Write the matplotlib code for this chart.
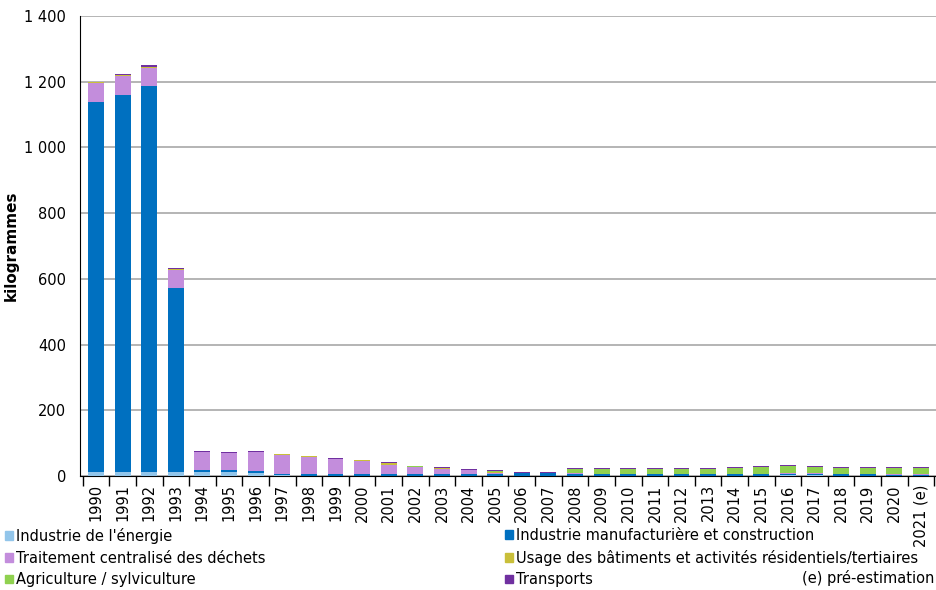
import numpy as np
import matplotlib.pyplot as plt
from matplotlib.patches import Patch

years = [str(y) for y in range(1990, 2021)] + ["2021 (e)"]

energie = [12, 12, 12, 12, 13, 13, 8, 2, 1, 1, 1, 1, 1, 1, 1, 1, 1, 1,
           1, 1, 1, 1, 1, 1, 1, 1, 2, 3, 1, 1, 1, 1]
manufacture = [1126, 1147, 1175, 561, 5, 4, 8, 5, 5, 4, 4, 4, 5, 4, 4, 4, 9, 8,
               4, 4, 4, 4, 4, 4, 4, 4, 4, 4, 4, 4, 3, 3]
dechets = [57, 58, 55, 55, 54, 52, 56, 57, 53, 47, 42, 30, 22, 15, 12, 5, 0, 0,
           3, 2, 2, 2, 2, 2, 2, 2, 2, 2, 2, 2, 2, 2]
residentiel = [3, 2, 3, 1, 2, 2, 1, 2, 1, 1, 1, 4, 0, 3, 1, 3, 0, 0,
               0, 0, 0, 0, 0, 0, 0, 0, 0, 0, 0, 0, 0, 0]
agriculture = [0, 0, 0, 0, 0, 0, 0, 0, 0, 0, 0, 2, 1, 2, 1, 3, 0, 0,
               14, 15, 15, 14, 15, 15, 18, 21, 21, 19, 18, 18, 19, 19]
transports = [2, 3, 5, 3, 2, 2, 2, 2, 2, 2, 2, 2, 2, 2, 3, 2, 2, 3,
              3, 3, 3, 3, 3, 3, 3, 3, 3, 3, 3, 3, 3, 3]

series = [
    ("Industrie de l'énergie", energie, "#92C5EA"),
    ("Industrie manufacturière et construction", manufacture, "#0070C0"),
    ("Traitement centralisé des déchets", dechets, "#C38DDC"),
    ("Usage des bâtiments et activités résidentiels/tertiaires", residentiel, "#C9BF3A"),
    ("Agriculture / sylviculture", agriculture, "#8FD14F"),
    ("Transports", transports, "#7030A0"),
]

fig = plt.figure(figsize=(9.37, 5.90), dpi=100)
ax = fig.add_axes([80 / 937, 1 - 476 / 590, 857 / 937, 460 / 590])

x = np.arange(len(years))
bottom = np.zeros(len(years))
for name, vals, col in series:
    vals = np.array(vals, dtype=float)
    ax.bar(x, vals, 0.6, bottom=bottom, color=col, edgecolor="none", zorder=3)
    bottom += vals

ax.set_xlim(-0.6, len(years) - 0.4)
ax.set_ylim(0, 1400)
yt = np.arange(0, 1401, 200)
ax.set_yticks(yt)
ax.set_yticklabels([f"{v:,}".replace(",", " ") for v in yt], fontsize=10.5)
ax.yaxis.grid(True, color="#a8a8a8", linewidth=1.2, zorder=0)
ax.tick_params(axis="y", length=0, pad=10)
ax.set_ylabel("kilogrammes", fontsize=11, fontweight="bold", labelpad=4)

ax.set_xticks(x)
ax.set_xticklabels(years, rotation=90, fontsize=10.5)
ax.tick_params(axis="x", length=0, pad=6)
ax.set_xticks(np.arange(len(years) + 1) - 0.5, minor=True)
ax.tick_params(axis="x", which="minor", length=7, width=1, color="black")

for s in ["top", "right"]:
    ax.spines[s].set_visible(False)
ax.spines["left"].set_color("black")
ax.spines["bottom"].set_color("black")

handles = [Patch(color=c, label=n) for n, v, c in series]
kw = dict(frameon=False, fontsize=10.5, handlelength=0.55, handleheight=0.55,
          handletextpad=0.2, labelspacing=0.45, borderaxespad=0, borderpad=0)
fig.legend(handles=[handles[0], handles[2], handles[4]], loc="upper left",
           bbox_to_anchor=(5 / 937, 1 - 528 / 590), **kw)
fig.legend(handles=[handles[1], handles[3], handles[5]], loc="upper left",
           bbox_to_anchor=(505 / 937, 1 - 528 / 590), **kw)
fig.text(934 / 937, 1 - 578 / 590, "(e) pré-estimation", fontsize=10.5,
         ha="right", va="center")

fig.savefig("out.png", dpi=100)
